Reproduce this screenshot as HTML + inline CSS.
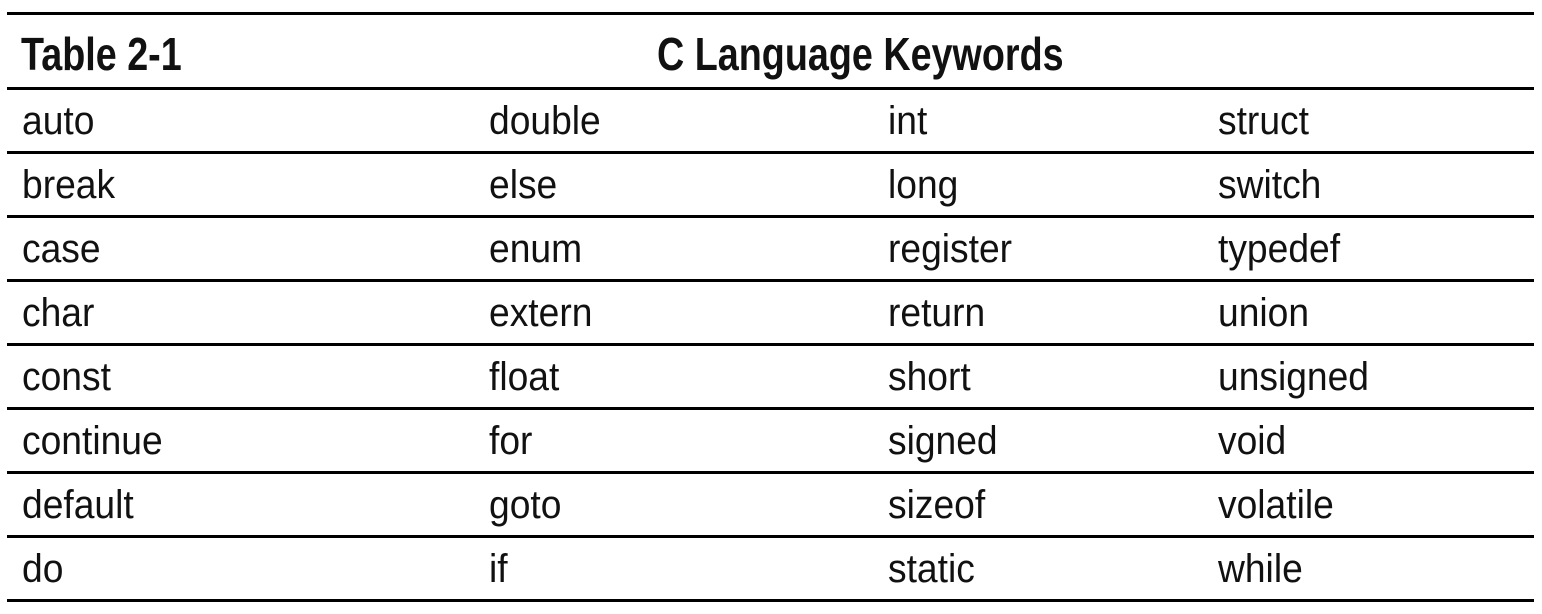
<!DOCTYPE html>
<html><head><style>
body{margin:0;width:1542px;height:614px;background:#fff;position:relative;overflow:hidden;font-family:"Liberation Sans",sans-serif;color:#111}
.l{position:absolute;left:7px;width:1527px;height:3px;background:#000}
.t{position:absolute;font-size:40px;line-height:40px;transform-origin:0 0;transform:scaleX(0.93);white-space:nowrap}
.h{position:absolute;font-size:46px;line-height:46px;font-weight:bold;transform-origin:0 0;transform:scaleX(0.82);white-space:nowrap}
</style></head><body>
<div class="l" style="top:12px"></div>
<div class="l" style="top:87px"></div>
<div class="l" style="top:151px"></div>
<div class="l" style="top:215px"></div>
<div class="l" style="top:279px"></div>
<div class="l" style="top:343px"></div>
<div class="l" style="top:407px"></div>
<div class="l" style="top:471px"></div>
<div class="l" style="top:535px"></div>
<div class="l" style="top:599px"></div>
<div class="h" style="left:21px;top:31px">Table 2-1</div>
<div class="h" style="left:657px;top:31px">C Language Keywords</div>
<div id="rows"></div>
<script>
var d=[["auto","double","int","struct"],["break","else","long","switch"],["case","enum","register","typedef"],["char","extern","return","union"],["const","float","short","unsigned"],["continue","for","signed","void"],["default","goto","sizeof","volatile"],["do","if","static","while"]];
var xs=[22,489,888,1218],h="";
d.forEach(function(r,i){r.forEach(function(w,j){h+='<div class="t" style="left:'+xs[j]+'px;top:'+(101+i*64)+'px">'+w+'</div>';});});
document.getElementById("rows").innerHTML=h;
</script>
</body></html>
